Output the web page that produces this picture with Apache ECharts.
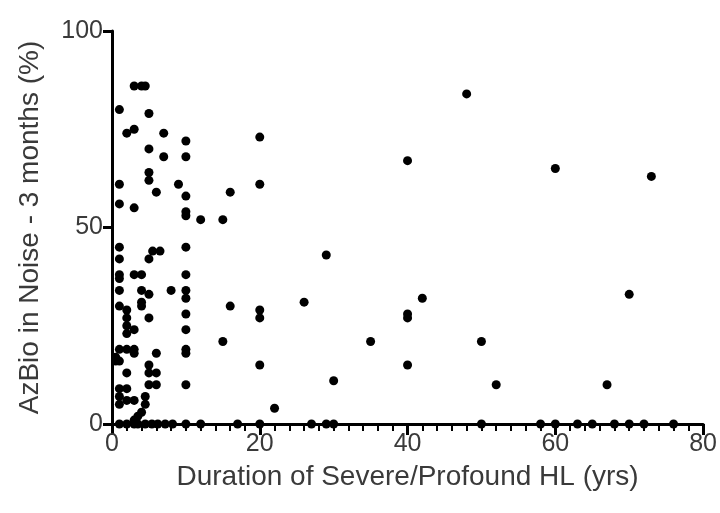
<!DOCTYPE html>
<html>
<head>
<meta charset="utf-8">
<script src="https://cdn.jsdelivr.net/npm/echarts@6/dist/echarts.min.js"></script>
<style>html,body{margin:0;padding:0;background:#fff}#c{width:720px;height:513px}</style>
</head>
<body>
<div id="c"></div>
<script>
// Duration of severe/profound HL (yrs) and AzBio in noise score (%) per subject
const durations = [
  3,4,4.5,1,5,2,3,7,10,5,7,10,5,5,1,9,6,10,1,3,10,10,12,
  1,5.5,6.5,5,10,1,1,1,3,4,10,1,4,5,4,4,8,10,10,1,2,2,10,5,2,3,10,2,
  1,2,3,3,0.5,0.5,1,6,10,10,2,5,5,6,10,5,6,1,2,1,1,2,3,4.5,4.5,4,3.5,3,
  1,2,3,3.5,4.5,5.4,6.2,7.2,8.2,10,12,17,20,27,29,30,50,58,60,63,65,68,70,72,76,
  48,20,40,60,73,16,20,15,29,16,20,20,26,40,40,42,70,15,35,50,20,40,30,52,67,22
];
const scores = [
  86,86,86,80,79,74,75,74,72,70,68,68,64,62,61,61,59,58,56,55,54,53,52,
  45,44,44,42,45,42,38,37,38,38,38,34,34,33,31,30,34,34,32,30,29,27,28,27,25,24,24,23,
  19,19,19,18,17,16,16,18,19,18,13,15,13,13,10,10,10,9,9,7,5,6,6,7,5,3,2,1,
  0,0,0,0,0,0,0,0,0,0,0,0,0,0,0,0,0,0,0,0,0,0,0,0,0,
  84,73,67,65,63,59,61,52,43,30,29,27,31,28,27,32,33,21,21,21,15,15,11,10,10,4
];
const xTicks = [0, 20, 40, 60, 80];
const yTicks = [0, 50, 100];
const xTitle = 'Duration of Severe/Profound HL (yrs)';
const yTitle = 'AzBio in Noise - 3 months (%)';

const points = durations.map((d, i) => [d, scores[i]]);
const chart = echarts.init(document.getElementById('c'), null, {renderer: 'canvas'});
const font = 'Liberation Sans, Arial, sans-serif';
const textColor = '#3a3a3a';
chart.setOption({
  animation: false,
  grid: {left: 112, right: 15, top: 31, bottom: 89},
  xAxis: {
    type: 'value', min: xTicks[0], max: xTicks[xTicks.length - 1], interval: 20,
    name: xTitle, nameLocation: 'middle', nameGap: 39,
    nameTextStyle: {fontFamily: font, fontSize: 28, color: textColor},
    axisLine: {show: true, lineStyle: {color: '#000', width: 3}},
    axisTick: {show: true, length: 11, lineStyle: {color: '#000', width: 3}},
    minorTick: {show: true, splitNumber: 10, length: 7, lineStyle: {color: '#000', width: 2}},
    axisLabel: {margin: 8, fontFamily: font, fontSize: 25, color: textColor},
    splitLine: {lineStyle: {color: 'rgba(0,0,0,0)'}}
  },
  yAxis: {
    type: 'value', min: yTicks[0], max: yTicks[yTicks.length - 1], interval: 50,
    name: yTitle, nameLocation: 'middle', nameGap: 68,
    nameTextStyle: {fontFamily: font, fontSize: 28, color: textColor},
    axisLine: {show: true, lineStyle: {color: '#000', width: 3}},
    axisTick: {show: true, length: 9, lineStyle: {color: '#000', width: 3}},
    axisLabel: {margin: 9, fontFamily: font, fontSize: 25, color: textColor},
    splitLine: {lineStyle: {color: 'rgba(0,0,0,0)'}}
  },
  series: [{
    type: 'scatter', data: points, symbol: 'circle', symbolSize: 9,
    itemStyle: {color: '#000', opacity: 1}
  }]
});
</script>
</body>
</html>
